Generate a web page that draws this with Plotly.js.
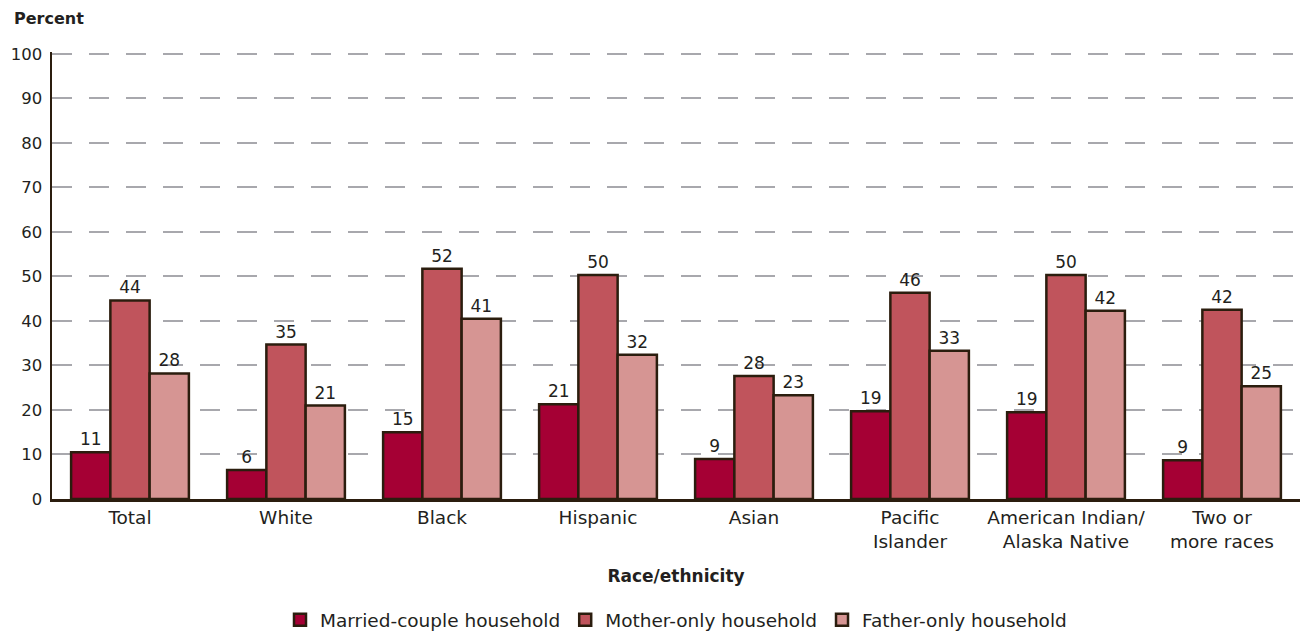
<!DOCTYPE html>
<html><head><meta charset="utf-8">
<script src="https://cdn.plot.ly/plotly-3.0.1.min.js"></script>
<style>html,body{margin:0;padding:0;background:#fff}#chart{width:1301px;height:633px}</style>
</head><body><div id="chart"></div>
<script>
const categories = ["Total","White","Black","Hispanic","Asian","Pacific<br>Islander","American Indian/<br>Alaska Native","Two or<br>more races"];
const married = [10.5, 6.5, 15.0, 21.3, 9.0, 19.7, 19.5, 8.7];
const mother  = [44.6, 34.7, 51.7, 50.3, 27.6, 46.3, 50.3, 42.5];
const father  = [28.2, 21.0, 40.5, 32.4, 23.3, 33.3, 42.3, 25.3];
const marriedLabels = ["11","6","15","21","9","19","19","9"];
const motherLabels  = ["44","35","52","50","28","46","50","42"];
const fatherLabels  = ["28","21","41","32","23","33","42","25"];
const seriesNames = ["Married-couple household","Mother-only household","Father-only household"];
const colors = ["#a50034","#c0545c","#d69593"];
const outline = "#2b1d0e";
const font = "'DejaVu Sans', sans-serif";
const txt = "#231f20";

function mk(name, y, labels, color){
  return {type:"bar", name:name, x:categories, y:y, text:labels, texttemplate:"%{text}",
    textposition:"outside", cliponaxis:false,
    textfont:{family:font, size:17, color:txt},
    marker:{color:color, line:{color:outline, width:2.5}}, hoverinfo:"x+y"};
}
const data = [mk(seriesNames[0], married, marriedLabels, colors[0]),
              mk(seriesNames[1], mother, motherLabels, colors[1]),
              mk(seriesNames[2], father, fatherLabels, colors[2])];
const layout = {
  width:1301, height:633, margin:{l:52, r:1, t:52, b:134, autoexpand:false},
  paper_bgcolor:"#fff", plot_bgcolor:"#fff",
  font:{family:font, size:16, color:txt},
  barmode:"group", bargap:0.245, bargroupgap:0,
  showlegend:true,
  legend:{orientation:"h", x:0.5, xanchor:"center", yref:"container", y:0.02, yanchor:"middle",
    font:{family:font, size:18.5, color:txt}, traceorder:"normal"},
  xaxis:{type:"category", showline:true, linecolor:outline, linewidth:2.5, ticks:"",
    tickfont:{family:font, size:18.5, color:txt}, showgrid:false, zeroline:false, automargin:false,
    title:{text:"<b>Race/ethnicity</b>", font:{family:font, size:17, color:txt}, standoff:20}},
  yaxis:{range:[0,100.4], tickvals:[0,10,20,30,40,50,60,70,80,90,100], showline:true, linecolor:outline, linewidth:2.5, ticks:"",
    tickfont:{family:font, size:16.5, color:txt}, ticklabelstandoff:4, automargin:false,
    showgrid:true, gridcolor:"#a8a8ad", gridwidth:2, griddash:"20px,17px", zeroline:false},
  annotations:[{text:"<b>Percent</b>", xref:"paper", yref:"paper", x:-0.032, xanchor:"left",
    y:1.076, yanchor:"middle", showarrow:false, font:{family:font, size:16, color:txt}}]
};
Plotly.newPlot("chart", data, layout, {displayModeBar:false, staticPlot:true});
</script></body></html>
